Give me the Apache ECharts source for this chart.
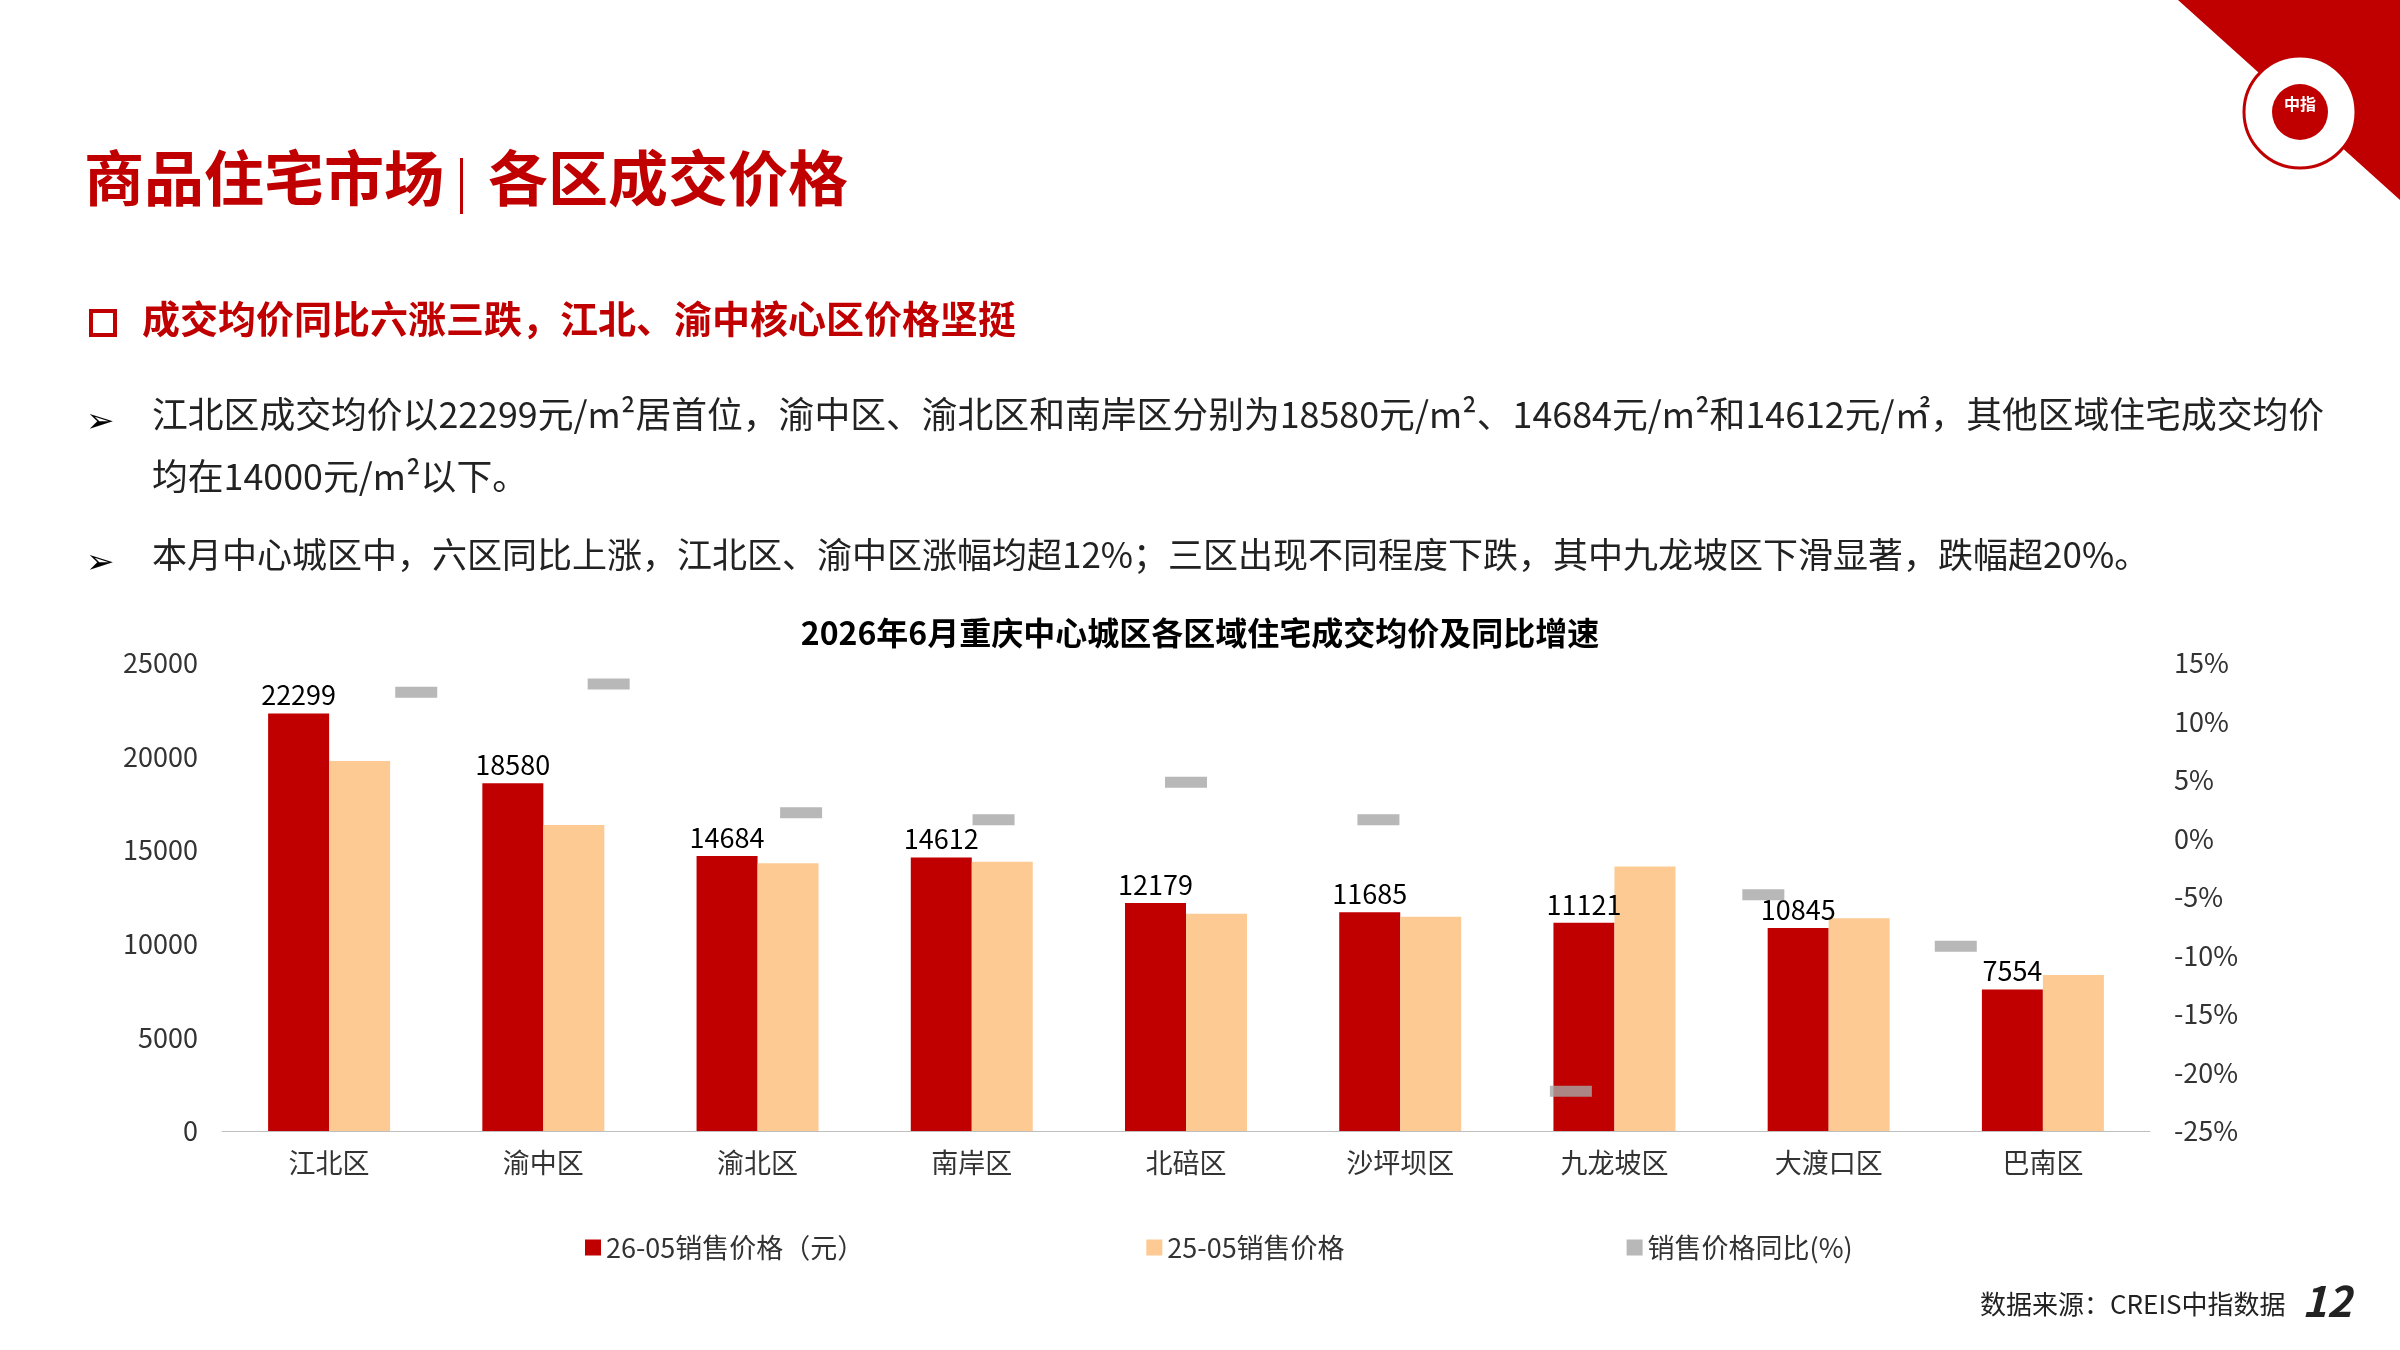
<!DOCTYPE html>
<html lang="zh">
<head>
<meta charset="UTF-8">
<title>各区成交价格</title>
<script src="https://cdn.jsdelivr.net/npm/echarts@6/dist/echarts.min.js"></script>
<style>
  html, body { margin: 0; padding: 0; background: #fff; }
  #main { width: 2400px; height: 1350px; }
</style>
</head>
<body>
<div id="main"></div>
<script>
    // 数据
    let districts = ['江北区', '渝中区', '渝北区', '南岸区', '北碚区', '沙坪坝区', '九龙坡区', '大渡口区', '巴南区'];
    let price2605 = [22299, 18580, 14684, 14612, 12179, 11685, 11121, 10845, 7554];
    let price2505 = [19770, 16340, 14300, 14380, 11600, 11440, 14130, 11360, 8330];
    let yoy = [12.5, 13.2, 2.2, 1.6, 4.8, 1.6, -21.6, -4.8, -9.2];

    let font = '"Noto Sans CJK SC", "Noto Sans", sans-serif';
    let red = '#c00000';

    let chart = echarts.init(document.getElementById('main'));
    chart.setOption({
        textStyle: { fontFamily: font },
        title: {
            text: '2026年6月重庆中心城区各区域住宅成交均价及同比增速',
            left: 'center', top: 612,
            textStyle: { fontSize: 32, fontWeight: 'bold', color: '#000', fontFamily: font }
        },
        legend: {
            bottom: 84, left: 580, itemGap: 282,
            itemWidth: 16, itemHeight: 16,
            textStyle: { fontSize: 27, color: '#333' },
            data: [
                { name: '26-05销售价格（元）', icon: 'rect' },
                { name: '25-05销售价格', icon: 'rect' },
                { name: '销售价格同比(%)', icon: 'rect', itemStyle: { color: '#a6a6a6' } }
            ]
        },
        grid: [
            { left: 222, right: 250, top: 663, bottom: 219 },
            { left: 320, right: 348, top: 663, bottom: 219 }
        ],
        xAxis: [
            {
                type: 'category', data: districts, gridIndex: 0,
                axisLine: { lineStyle: { color: '#bfbfbf' } },
                axisTick: { show: false },
                axisLabel: { fontSize: 27, color: '#333', margin: 18 }
            },
            {
                type: 'category', data: districts, gridIndex: 1, show: false
            }
        ],
        yAxis: [
            {
                type: 'value', min: 0, max: 25000, interval: 5000, gridIndex: 0,
                splitLine: { show: false },
                axisLabel: { fontSize: 27, color: '#333', margin: 24, formatter: v => String(v) }
            },
            {
                type: 'value', min: -25, max: 15, interval: 5, gridIndex: 0,
                splitLine: { show: false },
                axisLabel: { fontSize: 27, color: '#333', formatter: '{value}%', margin: 24 }
            },
            {
                type: 'value', min: -25, max: 15, interval: 5, gridIndex: 1, show: false
            }
        ],
        series: [
            {
                name: '26-05销售价格（元）', type: 'bar', data: price2605,
                barWidth: 61, barGap: '0%',
                itemStyle: { color: red },
                label: { show: true, position: 'top', fontSize: 27, color: '#000' }
            },
            {
                name: '25-05销售价格', type: 'bar', data: price2505,
                barWidth: 61,
                itemStyle: { color: '#fdca93' }
            },
            {
                name: '销售价格同比(%)', type: 'scatter', xAxisIndex: 1, yAxisIndex: 2, data: yoy,
                symbol: 'rect', symbolSize: [42, 11],
                itemStyle: { color: '#a6a6a6' }, z: 5
            }
        ],
        graphic: [
            { type: 'polygon', shape: { points: [[2178, 0], [2400, 0], [2400, 200]] }, style: { fill: red } },
            { type: 'circle', shape: { cx: 2300, cy: 112, r: 56 }, style: { fill: '#fff', stroke: red, lineWidth: 3 } },
            { type: 'circle', shape: { cx: 2300, cy: 112, r: 28 }, style: { fill: red } },
            { type: 'text', left: 2284, top: 96, style: { text: '中指', fill: '#fff', font: 'bold 16px ' + font } },
            { type: 'text', left: 84, top: 148, style: { text: '商品住宅市场', fill: red, font: 'bold 60px ' + font } },
            { type: 'rect', shape: { x: 460, y: 158, width: 3, height: 56 }, style: { fill: red } },
            { type: 'text', left: 488, top: 148, style: { text: '各区成交价格', fill: red, font: 'bold 60px ' + font } },
            { type: 'rect', shape: { x: 91, y: 311, width: 24, height: 24 }, style: { fill: 'none', stroke: red, lineWidth: 4 } },
            { type: 'text', left: 142, top: 300, style: { text: '成交均价同比六涨三跌，江北、渝中核心区价格坚挺', fill: red, font: 'bold 38px ' + font } },
            { type: 'text', left: 86, top: 402, style: { text: '➢', fill: '#000', font: '34px ' + font } },
            { type: 'text', left: 152, top: 396, style: { text: '江北区成交均价以22299元/m²居首位，渝中区、渝北区和南岸区分别为18580元/m²、14684元/m²和14612元/㎡，其他区域住宅成交均价', fill: '#222', font: '35.8px ' + font } },
            { type: 'text', left: 152, top: 458, style: { text: '均在14000元/m²以下。', fill: '#222', font: '35.8px ' + font } },
            { type: 'text', left: 86, top: 543, style: { text: '➢', fill: '#000', font: '34px ' + font } },
            { type: 'text', left: 152, top: 537, style: { text: '本月中心城区中，六区同比上涨，江北区、渝中区涨幅均超12%；三区出现不同程度下跌，其中九龙坡区下滑显著，跌幅超20%。', fill: '#222', font: '35px ' + font } },
            { type: 'text', left: 1980, top: 1291, style: { text: '数据来源：CREIS中指数据', fill: '#222', font: '26px ' + font } },
            { type: 'text', left: 2302, top: 1280, style: { text: '12', fill: '#222', font: 'italic bold 42px ' + font } }
        ]
    });
</script>
</body>
</html>
